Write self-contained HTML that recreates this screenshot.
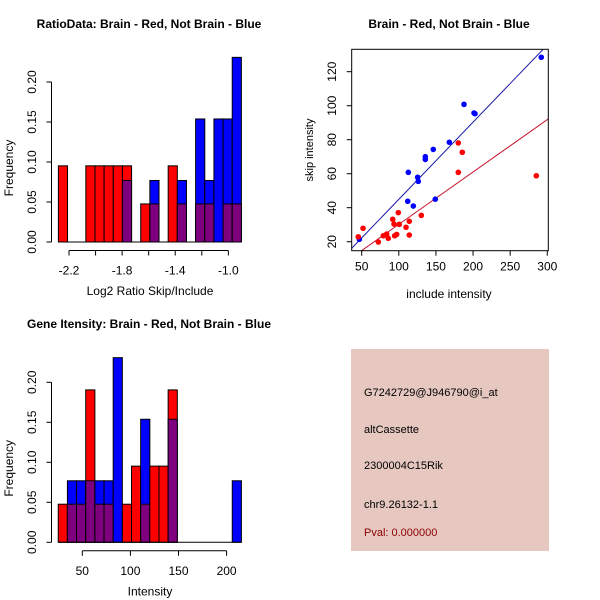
<!DOCTYPE html>
<html><head><meta charset="utf-8">
<style>
body{margin:0;background:#fff;}
svg{display:block;font-family:"Liberation Sans",sans-serif;}
</style></head>
<body>
<svg id="chart" width="600" height="600" viewBox="0 0 600 600" xmlns="http://www.w3.org/2000/svg">
<rect x="0" y="0" width="600" height="600" fill="#fff"/>
</svg>
<script>
// ---- Data: ratio histogram ----
const ratioRed = [0.0952,0,0,0.0952,0.0952,0.0952,0.0952,0.0952,0,0.0476,0.0476,0,0.0952,0.0476,0,0.0476,0.0476,0,0.0476,0.0476];
const ratioBlue = [0,0,0,0,0,0,0,0.0769,0,0,0.0769,0,0,0.0769,0,0.1538,0.0769,0.1538,0.1538,0.2308];
const ratioBinStart = -2.28;
const ratioBinWidth = 0.0689;
const ratioXTicks = [-2.2,-2.0,-1.8,-1.6,-1.4,-1.2,-1.0];
const ratioXLabels = ["-2.2","","-1.8","","-1.4","","-1.0"];
const freqTicks = [0,0.05,0.10,0.15,0.20];
const freqLabels = ["0.00","0.05","0.10","0.15","0.20"];
// ---- Data: gene intensity histogram ----
const geneRed = [0.0476,0.0476,0.0476,0.1905,0.0476,0.0476,0,0.0476,0.0952,0.0476,0.0952,0.0952,0.1905,0,0,0,0,0,0,0];
const geneBlue = [0,0.0769,0.0769,0.0769,0.0769,0.0769,0.2308,0,0,0.1538,0,0,0.1538,0,0,0,0,0,0,0.0769];
const geneBinStart = 25;
const geneBinWidth = 9.52;
const geneXTicks = [50,100,150,200];
// ---- Data: scatter ----
const blueX = [46.8,112,119.5,112.8,125.4,126.2,135.7,135.7,146.4,149.1,168,187.8,201.3,202.6,291.9];
const blueY = [21.4,43.8,41,60.8,57.9,55.5,70,68.4,74.3,45,78.5,100.8,95.7,95.3,128.5];
const redX = [45.4,51.8,72.4,79.1,83.7,85.8,91.8,93.5,94.4,97.1,99.3,100.6,109.7,114.1,114.1,130.3,180.1,180.1,185.5,285.2];
const redY = [22.9,27.9,19.8,23.5,24.5,22,33.2,30.4,23.5,24.3,37.1,30.2,28.5,32,23.9,35.5,78.1,60.8,72.6,58.8];
const blueFit = [-0.47,0.454];
const redFit = [-0.6,0.308];
const scatterXTicks = [50,100,150,200,250,300];
const scatterYTicks = [20,40,60,80,100,120];

const NS="http://www.w3.org/2000/svg";
const svg=document.getElementById('chart');
function mk(tag,attrs,parent){const e=document.createElementNS(NS,tag);for(const k in attrs)e.setAttribute(k,attrs[k]);(parent||svg).appendChild(e);return e;}
function txt(s,x,y,attrs,parent){const e=mk('text',Object.assign({x:x,y:y,'font-size':12,fill:'#000'},attrs||{}),parent);e.textContent=s;return e;}

function hist(opts){
  const g=mk('g',{});
  
  
  const sx=v=>opts.x0+(v-opts.xd0)*opts.xs;
  const sy=v=>opts.base-v*800;
  for(let i=0;i<opts.red.length;i++){
    const a=opts.binStart+i*opts.binWidth, b=a+opts.binWidth;
    const x1=sx(a), x2=sx(b);
    const r=opts.red[i], bl=opts.blue[i];
    const hi=Math.max(r,bl), lo=Math.min(r,bl);
    if(hi>0){
      const bar=mk('rect',{x:x1,y:sy(hi),width:x2-x1,height:sy(0)-sy(hi),fill:r>=bl?'#ff0000':'#0000ff',stroke:'#000','stroke-width':1},g);
      
      
    }
    if(lo>0){
      const bar=mk('rect',{x:x1,y:sy(lo),width:x2-x1,height:sy(0)-sy(lo),fill:'#7f007f',stroke:'#000','stroke-width':1},g);
      
      
    }
  }
  mk('line',{x1:sx(opts.binStart),x2:sx(opts.binStart+opts.red.length*opts.binWidth),y1:opts.base,y2:opts.base,stroke:'#000'},g);
  // y axis
  const ya=mk('g',{},g);
  
  
  const ax=51.5;
  mk('line',{x1:ax,x2:ax,y1:sy(0),y2:sy(0.2),stroke:'#000'},ya);
  freqTicks.forEach((t,i)=>{
    mk('line',{x1:ax-5,x2:ax,y1:sy(t),y2:sy(t),stroke:'#000'},ya);
    txt(freqLabels[i],36,sy(t),{'text-anchor':'middle',transform:'rotate(-90 36 '+sy(t)+')'},ya);
  });
  // x axis
  const xa=mk('g',{},g);
  
  
  const ayy=opts.base+8.5;
  mk('line',{x1:sx(opts.ticks[0]),x2:sx(opts.ticks[opts.ticks.length-1]),y1:ayy,y2:ayy,stroke:'#000'},xa);
  opts.ticks.forEach((t,i)=>{
    mk('line',{x1:sx(t),x2:sx(t),y1:ayy,y2:ayy+5,stroke:'#000'},xa);
    txt(opts.labels[i],sx(t),ayy+24,{'text-anchor':'middle'},xa);
  });
  const tt=txt(opts.title,149,opts.titleY,{'text-anchor':'middle','font-weight':'bold'});
  
  
  const xl=txt(opts.xlabel,150,opts.base+53,{'text-anchor':'middle'});
  
  
  const cy=(sy(0)+sy(0.2))/2+6;
  const yl=txt('Frequency',13,cy,{'text-anchor':'middle',transform:'rotate(-90 13 '+cy+')'});
  
  
}

hist({name:'ratio-histogram',red:ratioRed,blue:ratioBlue,binStart:ratioBinStart,binWidth:ratioBinWidth,
  x0:69,xd0:-2.2,xs:132.8,base:242,ticks:ratioXTicks,labels:ratioXLabels,
  title:'RatioData: Brain - Red, Not Brain - Blue',titleY:28,xlabel:'Log2 Ratio Skip/Include'});
hist({name:'gene-intensity-histogram',red:geneRed,blue:geneBlue,binStart:geneBinStart,binWidth:geneBinWidth,
  x0:82.3,xd0:50,xs:0.962,base:542.3,ticks:geneXTicks,labels:geneXTicks.map(String),
  title:'Gene Itensity: Brain - Red, Not Brain - Blue',titleY:328,xlabel:'Intensity'});

// scatter
(function(){
  const g=mk('g',{});
  
  
  const L=351.7,R=548.3,T=49.3,B=250.7;
  const sx=v=>361.7+(v-50)*0.7424;
  const sy=v=>241.7-(v-20)*1.7;
  const defs=mk('defs',{},g);
  const cp=mk('clipPath',{id:'clipS'},defs);
  mk('rect',{x:L,y:T,width:R-L,height:B-T},cp);
  const pts=mk('g',{'clip-path':'url(#clipS)'},g);
  [[blueFit,'#1a1aa8','blue-fit-line'],[redFit,'#c8102e','red-fit-line']].forEach(([f,c,n])=>{
    const xa=20,xb=320;
    const ln=mk('line',{x1:sx(xa),y1:sy(f[0]+f[1]*xa),x2:sx(xb),y2:sy(f[0]+f[1]*xb),stroke:c,'stroke-width':1},pts);
    
    
  });
  blueX.forEach((x,i)=>{
    const p=mk('circle',{cx:sx(x),cy:sy(blueY[i]),r:2.8,fill:'#0000ff'},pts);
    
    
  });
  redX.forEach((x,i)=>{
    const p=mk('circle',{cx:sx(x),cy:sy(redY[i]),r:2.8,fill:'#ff0000'},pts);
    
    
  });
  mk('rect',{x:L,y:T,width:R-L,height:B-T,fill:'none',stroke:'#000'},g);
  const xa=mk('g',{},g);
  
  
  scatterXTicks.forEach(t=>{
    mk('line',{x1:sx(t),x2:sx(t),y1:B,y2:B+5,stroke:'#000'},xa);
    txt(String(t),sx(t),B+20,{'text-anchor':'middle'},xa);
  });
  const ya=mk('g',{},g);
  
  
  scatterYTicks.forEach(t=>{
    mk('line',{x1:L-5,x2:L,y1:sy(t),y2:sy(t),stroke:'#000'},ya);
    txt(String(t),336,sy(t),{'text-anchor':'middle',transform:'rotate(-90 336 '+sy(t)+')'},ya);
  });
  const tt=txt('Brain - Red, Not Brain - Blue',449,28,{'text-anchor':'middle','font-weight':'bold'});
  
  
  const xl=txt('include intensity',449,298,{'text-anchor':'middle'});
  
  
  const yl=txt('skip intensity',313,150,{'text-anchor':'middle','font-size':11,transform:'rotate(-90 313 150)'});
  
  
})();

// info panel
(function(){
  const g=mk('g',{});
  
  
  mk('rect',{x:351,y:349,width:198,height:202,fill:'#e6c8c1'},g);
  const lines=[['G7242729@J946790@i_at',396,'#000','probe-id'],['altCassette',433,'#000','event-type'],['2300004C15Rik',469,'#000','gene-name'],['chr9.26132-1.1',508,'#000','location'],['Pval: 0.000000',536,'#8b0000','p-value']];
  lines.forEach(l=>{
    const t=txt(l[0],364,l[1],{'font-size':11,fill:l[2]},g);
    
    
  });
})();
</script>
</body></html>
